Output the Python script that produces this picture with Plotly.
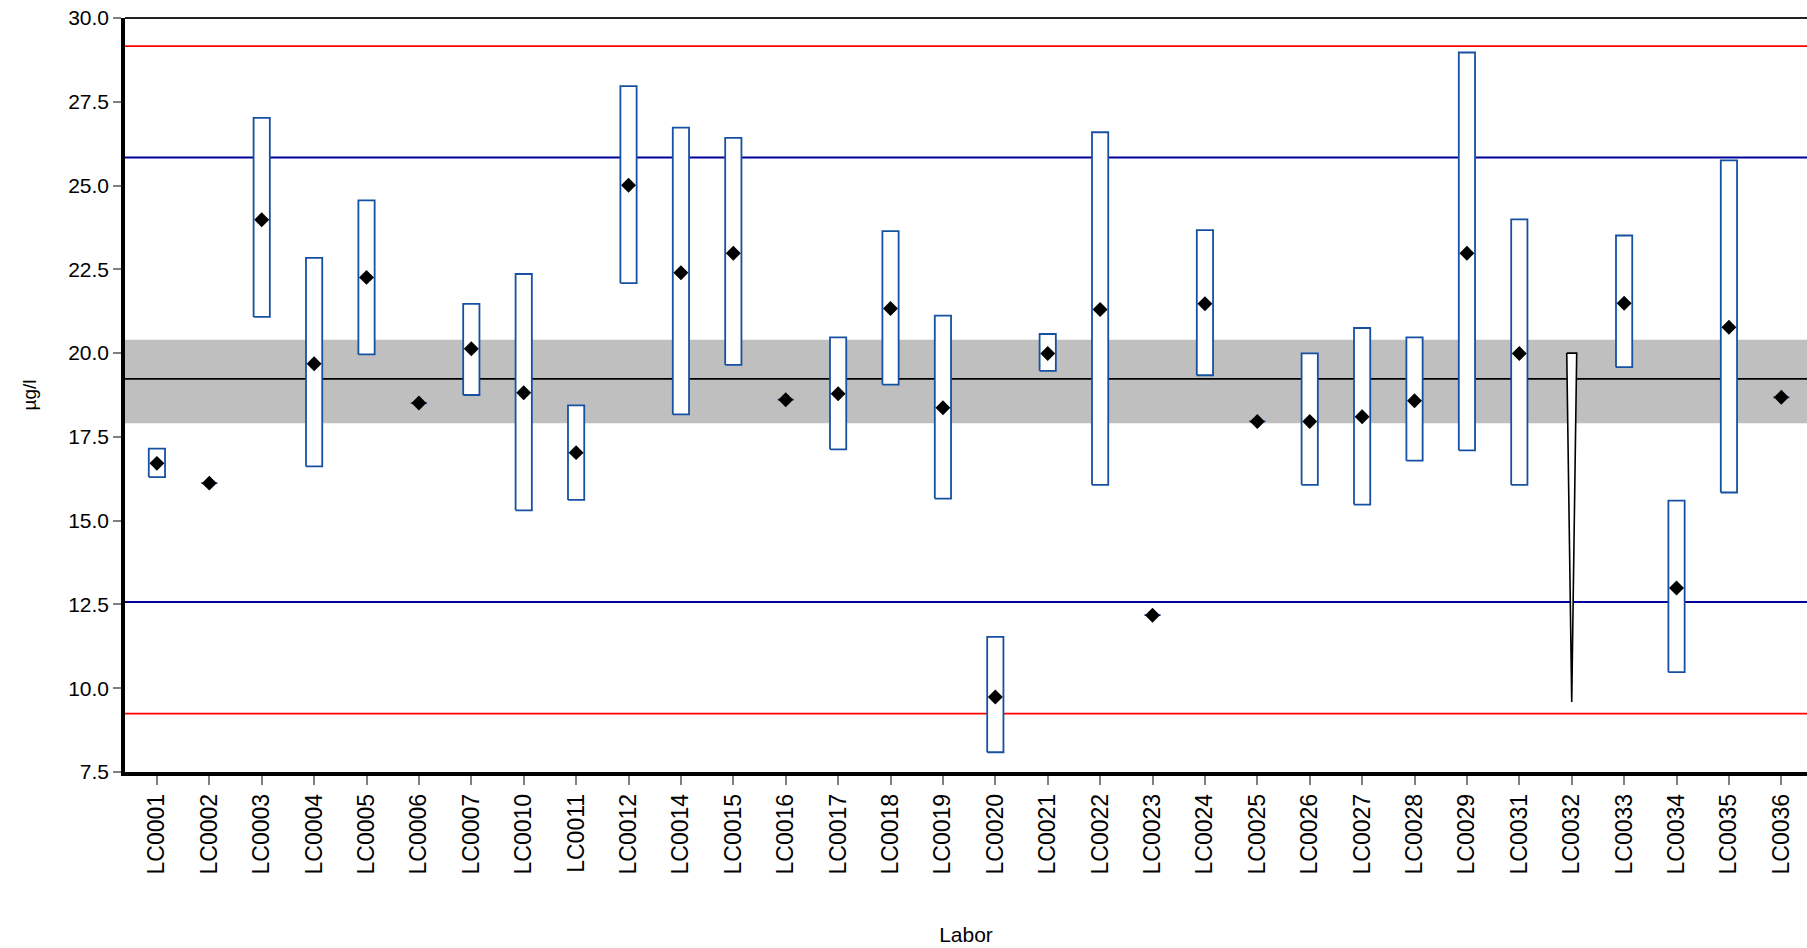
import plotly.graph_objects as go

labs = ["LC0001", "LC0002", "LC0003", "LC0004", "LC0005", "LC0006", "LC0007", "LC0010",
        "LC0011", "LC0012", "LC0014", "LC0015", "LC0016", "LC0017", "LC0018", "LC0019",
        "LC0020", "LC0021", "LC0022", "LC0023", "LC0024", "LC0025", "LC0026", "LC0027",
        "LC0028", "LC0029", "LC0031", "LC0032", "LC0033", "LC0034", "LC0035", "LC0036"]

values = [16.71, 16.12, 23.98, 19.68, 22.26, 18.51, 20.13, 18.82,
          17.03, 25.01, 22.40, 22.98, 18.61, 18.79, 21.33, 18.37,
          9.74, 19.99, 21.30, 12.18, 21.47, 17.96, 17.96, 18.10,
          18.58, 22.98, 19.99, None, 21.49, 12.99, 20.77, 18.68]

lower = [16.30, 16.12, 21.08, 16.62, 19.96, 18.51, 18.75, 15.31,
         15.62, 22.09, 18.17, 19.65, 18.61, 17.13, 19.06, 15.66,
         8.09, 19.47, 16.07, 12.18, 19.34, 17.96, 16.07, 15.48,
         16.79, 17.10, 16.07, 9.59, 19.58, 10.48, 15.84, 18.68]

upper = [17.15, 16.12, 27.02, 22.84, 24.56, 18.51, 21.47, 22.36,
         18.44, 27.97, 26.73, 26.42, 18.61, 20.47, 23.64, 21.12,
         11.53, 20.57, 26.59, 12.18, 23.67, 17.96, 19.99, 20.75,
         20.47, 28.97, 23.99, 20.00, 23.51, 15.60, 25.75, 18.68]

assigned = 19.23
band_low, band_high = 17.91, 20.40
blue_low, blue_high = 12.57, 25.84
red_low, red_high = 9.24, 29.16

y_ticks = [7.5, 10.0, 12.5, 15.0, 17.5, 20.0, 22.5, 25.0, 27.5, 30.0]

BOX_HALF = 0.155
TAPER_HALF = 0.095
BLUE_BOX = "#1650a2"
FONT = "Liberation Sans, Arial, sans-serif"

# Build box outlines (rectangles) from the interval arrays
bx, by = [], []
tx, ty = [], []
for i, (v, lo, hi) in enumerate(zip(values, lower, upper)):
    if v is None:
        # result without a point: tapered interval drawn in black
        tx += [i - TAPER_HALF, i + TAPER_HALF, i, i - TAPER_HALF, None]
        ty += [hi, hi, lo, hi, None]
    else:
        bx += [i - BOX_HALF, i + BOX_HALF, i + BOX_HALF, i - BOX_HALF, i - BOX_HALF, None]
        by += [lo, lo, hi, hi, lo, None]

idx = list(range(len(labs)))
fig = go.Figure()

fig.add_trace(go.Scatter(x=bx, y=by, mode="lines", fill="toself", fillcolor="white",
                         line=dict(color=BLUE_BOX, width=1.8), hoverinfo="skip",
                         showlegend=False))
fig.add_trace(go.Scatter(x=tx, y=ty, mode="lines", fill="toself", fillcolor="white",
                         line=dict(color="black", width=1.6), hoverinfo="skip",
                         showlegend=False))
fig.add_trace(go.Scatter(x=[i for i, v in zip(idx, values) if v is not None],
                         y=[v for v in values if v is not None],
                         mode="markers",
                         marker=dict(symbol="diamond", size=11.5, color="black",
                                     line=dict(width=0)),
                         showlegend=False))

shapes = [
    dict(type="rect", xref="paper", x0=0, x1=1, yref="y", y0=band_low, y1=band_high,
         fillcolor="#bfbfbf", line=dict(width=0), layer="below"),
    dict(type="line", xref="paper", x0=0, x1=1, yref="y", y0=assigned, y1=assigned,
         line=dict(color="black", width=1.6), layer="below"),
    dict(type="line", xref="paper", x0=0, x1=1, yref="y", y0=blue_low, y1=blue_low,
         line=dict(color="#00009a", width=2), layer="below"),
    dict(type="line", xref="paper", x0=0, x1=1, yref="y", y0=blue_high, y1=blue_high,
         line=dict(color="#00009a", width=2), layer="below"),
    dict(type="line", xref="paper", x0=0, x1=1, yref="y", y0=red_low, y1=red_low,
         line=dict(color="#ff0000", width=1.8), layer="below"),
    dict(type="line", xref="paper", x0=0, x1=1, yref="y", y0=red_high, y1=red_high,
         line=dict(color="#ff0000", width=1.8), layer="below"),
    dict(type="line", xref="paper", x0=0, x1=1, yref="paper", y0=1, y1=1,
         line=dict(color="#222222", width=2), layer="above"),
]

fig.update_layout(
    width=1807, height=948,
    margin=dict(l=125, r=0, t=18, b=176),
    paper_bgcolor="white", plot_bgcolor="white",
    font=dict(family=FONT, color="black"),
    shapes=shapes,
    showlegend=False,
    xaxis=dict(
        range=[-0.609, 31.49], automargin=False,
        tickmode="array", tickvals=idx, ticktext=labs,
        tickangle=-90, tickfont=dict(size=23, family=FONT),
        ticks="outside", ticklen=9, tickwidth=1.5, tickcolor="#808080",
        showline=True, linecolor="black", linewidth=3.5,
        showgrid=False, zeroline=False,
        title=dict(text="Labor", font=dict(size=21, family=FONT), standoff=55),
    ),
    yaxis=dict(
        range=[7.5, 30.0], automargin=False,
        tickmode="array", tickvals=y_ticks, ticktext=[f"{t:.1f}" for t in y_ticks],
        tickfont=dict(size=21, family=FONT),
        ticks="outside", ticklen=8, tickwidth=1.5, tickcolor="#808080",
        showline=True, linecolor="black", linewidth=3.5,
        showgrid=False, zeroline=False,
        title=dict(text="µg/l", font=dict(size=19, family=FONT), standoff=28),
    ),
)

fig.write_html("out.html",
               config={"displayModeBar": False},
               post_script="document.body.style.margin='0px';document.body.style.overflow='hidden';")
